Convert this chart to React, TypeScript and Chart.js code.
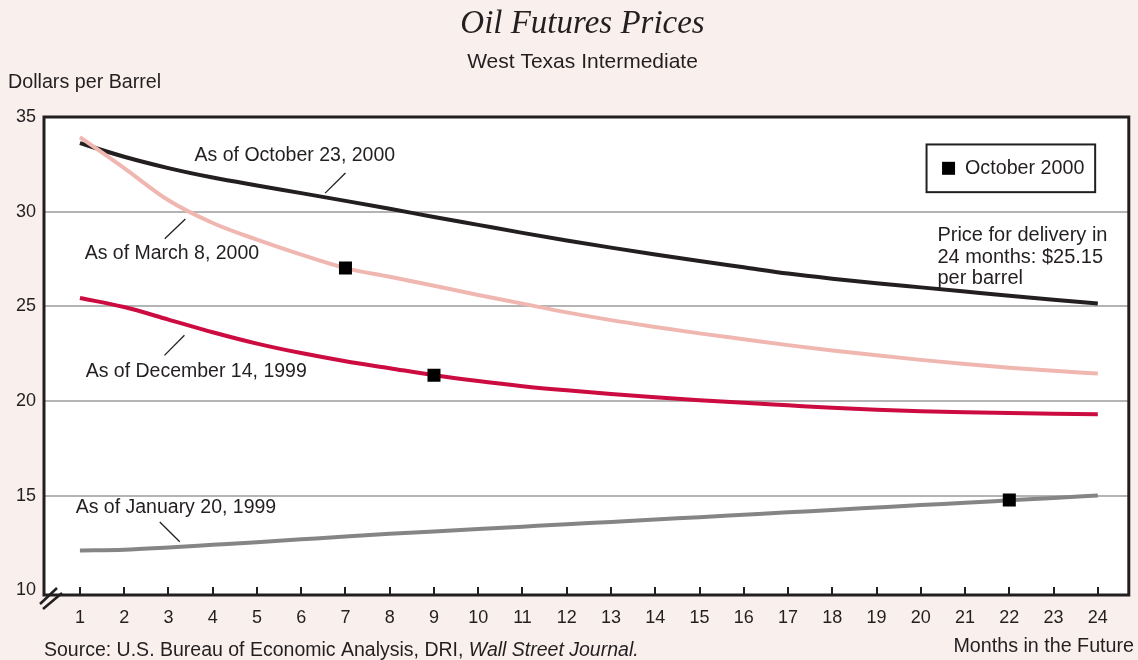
import React, { useEffect, useRef } from "react";
import { Chart, registerables } from "chart.js";

Chart.register(...registerables);

// ---------- data ----------
const months = [1, 2, 3, 4, 5, 6, 7, 8, 9, 10, 11, 12, 13, 14, 15, 16, 17, 18, 19, 20, 21, 22, 23, 24];
const oct2000 = [33.62, 32.9, 32.3, 31.8, 31.38, 30.98, 30.57, 30.15, 29.72, 29.3, 28.88, 28.48, 28.1, 27.74, 27.39, 27.06, 26.73, 26.46, 26.22, 26.0, 25.78, 25.56, 25.35, 25.15];
const mar2000 = [33.94, 32.3, 30.6, 29.4, 28.52, 27.73, 27.02, 26.56, 26.09, 25.6, 25.14, 24.68, 24.27, 23.91, 23.57, 23.26, 22.95, 22.67, 22.41, 22.17, 21.95, 21.76, 21.59, 21.45];
const dec1999 = [25.44, 24.96, 24.3, 23.63, 23.03, 22.53, 22.1, 21.73, 21.36, 21.05, 20.78, 20.56, 20.37, 20.2, 20.04, 19.9, 19.77, 19.64, 19.54, 19.46, 19.4, 19.36, 19.33, 19.3];
const jan1999 = [12.1, 12.14, 12.26, 12.4, 12.54, 12.69, 12.84, 12.98, 13.11, 13.23, 13.36, 13.49, 13.61, 13.74, 13.86, 13.99, 14.12, 14.24, 14.37, 14.5, 14.62, 14.75, 14.88, 15.0];
const markerMonths = [7, 9, 22];
const markerValues = [27.02, 21.36, 14.77];
const yTickValues = [10, 15, 20, 25, 30, 35];

const seriesNames = ["As of October 23, 2000", "As of March 8, 2000", "As of December 14, 1999", "As of January 20, 1999"];
const markerName = "October 2000";
const titleText = "Oil Futures Prices";
const subtitleText = "West Texas Intermediate";
const yAxisTitle = "Dollars per Barrel";
const xAxisTitle = "Months in the Future";
const sourceText = "Source: U.S. Bureau of Economic Analysis, DRI, ";
const sourceItalic = "Wall Street Journal.";
const noteLines = ["Price for delivery in", "24 months: $25.15", "per barrel"];

// ---------- styles ----------
const BG = "#f9efed";
const INK = "#231f20";
const SANS = "'Liberation Sans', Arial, sans-serif";
const SERIF = "'Liberation Serif', 'Times New Roman', serif";
const COLORS = ["#231f20", "#f0b7b1", "#cc0c40", "#858585"];
const TXT = 19.7;

const toXY = (vals: number[]) => months.map((m, i) => ({ x: m, y: vals[i] }));

const decor = {
  id: "decor",
  beforeDraw(chart: any) {
    const { ctx, chartArea: a } = chart;
    ctx.save();
    ctx.fillStyle = BG;
    ctx.fillRect(0, 0, chart.width, chart.height);
    ctx.fillStyle = "#ffffff";
    ctx.fillRect(a.left, a.top, a.right - a.left, a.bottom - a.top);
    ctx.restore();
  },
  afterDatasetsDraw(chart: any) {
    const { ctx, chartArea: a, scales } = chart;
    const xs = scales.x;
    ctx.save();
    ctx.strokeStyle = INK;
    ctx.lineWidth = 2;
    months.forEach((m) => {
      const px = Math.round(xs.getPixelForValue(m));
      ctx.beginPath();
      ctx.moveTo(px, a.bottom);
      ctx.lineTo(px, a.bottom - 8);
      ctx.stroke();
    });
    ctx.lineWidth = 3;
    ctx.strokeRect(a.left, a.top, a.right - a.left, a.bottom - a.top);
    ctx.lineWidth = 2.5;
    ctx.beginPath();
    ctx.moveTo(a.left - 4, a.bottom + 9);
    ctx.lineTo(a.left + 13, a.bottom - 7);
    ctx.moveTo(a.left - 1, a.bottom + 14);
    ctx.lineTo(a.left + 18, a.bottom - 2);
    ctx.stroke();
    ctx.restore();
  },
  afterDraw(chart: any) {
    const { ctx, chartArea: a, scales } = chart;
    const xs = scales.x;
    const ys = scales.y;
    const X = (v: number) => xs.getPixelForValue(v);
    const Y = (v: number) => ys.getPixelForValue(v);
    ctx.save();
    ctx.fillStyle = INK;
    ctx.strokeStyle = INK;
    ctx.textBaseline = "middle";

    ctx.textAlign = "center";
    ctx.font = `italic 33px ${SERIF}`;
    ctx.fillText(titleText, 582.5, 24);
    ctx.font = `21px ${SANS}`;
    ctx.fillText(subtitleText, 582.5, 62);

    ctx.textAlign = "left";
    ctx.font = `${TXT}px ${SANS}`;
    ctx.fillText(yAxisTitle, 8, 83);
    ctx.textAlign = "right";
    ctx.fillText(xAxisTitle, 1134, 647);

    ctx.textAlign = "left";
    ctx.font = `19.5px ${SANS}`;
    ctx.fillText(sourceText, a.left, 651);
    const w = ctx.measureText(sourceText).width;
    ctx.font = `italic 19.5px ${SANS}`;
    ctx.fillText(sourceItalic, a.left + w, 651);

    ctx.font = `19.5px ${SANS}`;
    ctx.lineWidth = 1.3;
    const labels = [
      { t: seriesNames[0], x: 3.59, y: 32.97, l: [7.0, 32.04, 6.54, 30.98] },
      { t: seriesNames[1], x: 1.106, y: 27.78, l: [3.383, 29.61, 2.916, 28.57] },
      { t: seriesNames[2], x: 1.129, y: 21.57, l: [3.361, 23.47, 2.91, 22.41] },
      { t: seriesNames[3], x: 0.903, y: 14.37, l: [2.804, 13.61, 3.255, 12.56] },
    ];
    labels.forEach((lb) => {
      ctx.fillText(lb.t, X(lb.x), Y(lb.y));
      ctx.beginPath();
      ctx.moveTo(X(lb.l[0]), Y(lb.l[1]));
      ctx.lineTo(X(lb.l[2]), Y(lb.l[3]));
      ctx.stroke();
    });

    ctx.font = `20px ${SANS}`;
    const noteY = [28.75, 27.6, 26.46];
    noteLines.forEach((s, i) => ctx.fillText(s, X(20.375), Y(noteY[i])));

    const bx0 = X(20.13), bx1 = X(23.94), by0 = Y(33.55), by1 = Y(31.03);
    ctx.fillStyle = "#ffffff";
    ctx.fillRect(bx0, by0, bx1 - bx0, by1 - by0);
    ctx.lineWidth = 2;
    ctx.strokeStyle = INK;
    ctx.strokeRect(bx0, by0, bx1 - bx0, by1 - by0);
    const cy = (by0 + by1) / 2;
    ctx.fillStyle = "#000000";
    ctx.fillRect(bx0 + 15.5, cy - 6.5, 13, 13);
    ctx.fillStyle = INK;
    ctx.font = `${TXT}px ${SANS}`;
    ctx.fillText(markerName, bx0 + 38.5, cy);

    ctx.restore();
  },
};

export default function App() {
  const ref = useRef<HTMLCanvasElement>(null);
  useEffect(() => {
    const canvas = ref.current;
    if (!canvas) return;
    const lineDs = (label: string, vals: number[], color: string) => ({
      label,
      data: toXY(vals),
      borderColor: color,
      backgroundColor: color,
      borderWidth: 4,
      pointRadius: 0,
      cubicInterpolationMode: "monotone" as const,
      fill: false,
    });
    const chart = new Chart(canvas, {
      type: "line",
      data: {
        datasets: [
          {
            label: markerName,
            data: markerMonths.map((m, i) => ({ x: m, y: markerValues[i] })),
            showLine: false,
            pointStyle: "rect",
            pointRadius: 9.2,
            pointBackgroundColor: "#000000",
            pointBorderWidth: 0,
            borderColor: "#000000",
            backgroundColor: "#000000",
            order: -1,
          } as any,
          lineDs(seriesNames[3], jan1999, COLORS[3]),
          lineDs(seriesNames[2], dec1999, COLORS[2]),
          lineDs(seriesNames[1], mar2000, COLORS[1]),
          lineDs(seriesNames[0], oct2000, COLORS[0]),
        ],
      },
      options: {
        responsive: false,
        animation: false,
        events: [],
        layout: { padding: { top: 117, right: 7, left: 0, bottom: 0 } },
        plugins: { legend: { display: false }, tooltip: { enabled: false }, title: { display: false } },
        scales: {
          x: {
            type: "linear",
            min: 0.188,
            max: 24.7,
            afterBuildTicks: (s: any) => {
              s.ticks = months.map((v) => ({ value: v }));
            },
            afterFit: (s: any) => {
              s.height = 65;
            },
            grid: { display: false, drawTicks: false },
            border: { display: false },
            ticks: {
              autoSkip: false,
              maxRotation: 0,
              padding: 12,
              color: INK,
              font: { family: SANS, size: 18 },
            },
          },
          y: {
            type: "linear",
            min: 9.75,
            max: 35,
            afterBuildTicks: (s: any) => {
              s.ticks = yTickValues.map((v) => ({ value: v }));
            },
            afterFit: (s: any) => {
              s.width = 44;
            },
            grid: {
              drawTicks: false,
              lineWidth: 2,
              color: (c: any) => (c.tick && (c.tick.value === 10 || c.tick.value === 35) ? "rgba(0,0,0,0)" : "#b4b4b4"),
            },
            border: { display: false },
            ticks: {
              padding: 8,
              color: INK,
              font: { family: SANS, size: 18 },
            },
          },
        },
      },
      plugins: [decor],
    });
    return () => chart.destroy();
  }, []);
  return (
    <div style={{ position: "fixed", left: 0, top: 0, width: 1138, height: 660, background: BG }}>
      <canvas ref={ref} width={1138} height={660} style={{ display: "block", width: 1138, height: 660 }} />
    </div>
  );
}
